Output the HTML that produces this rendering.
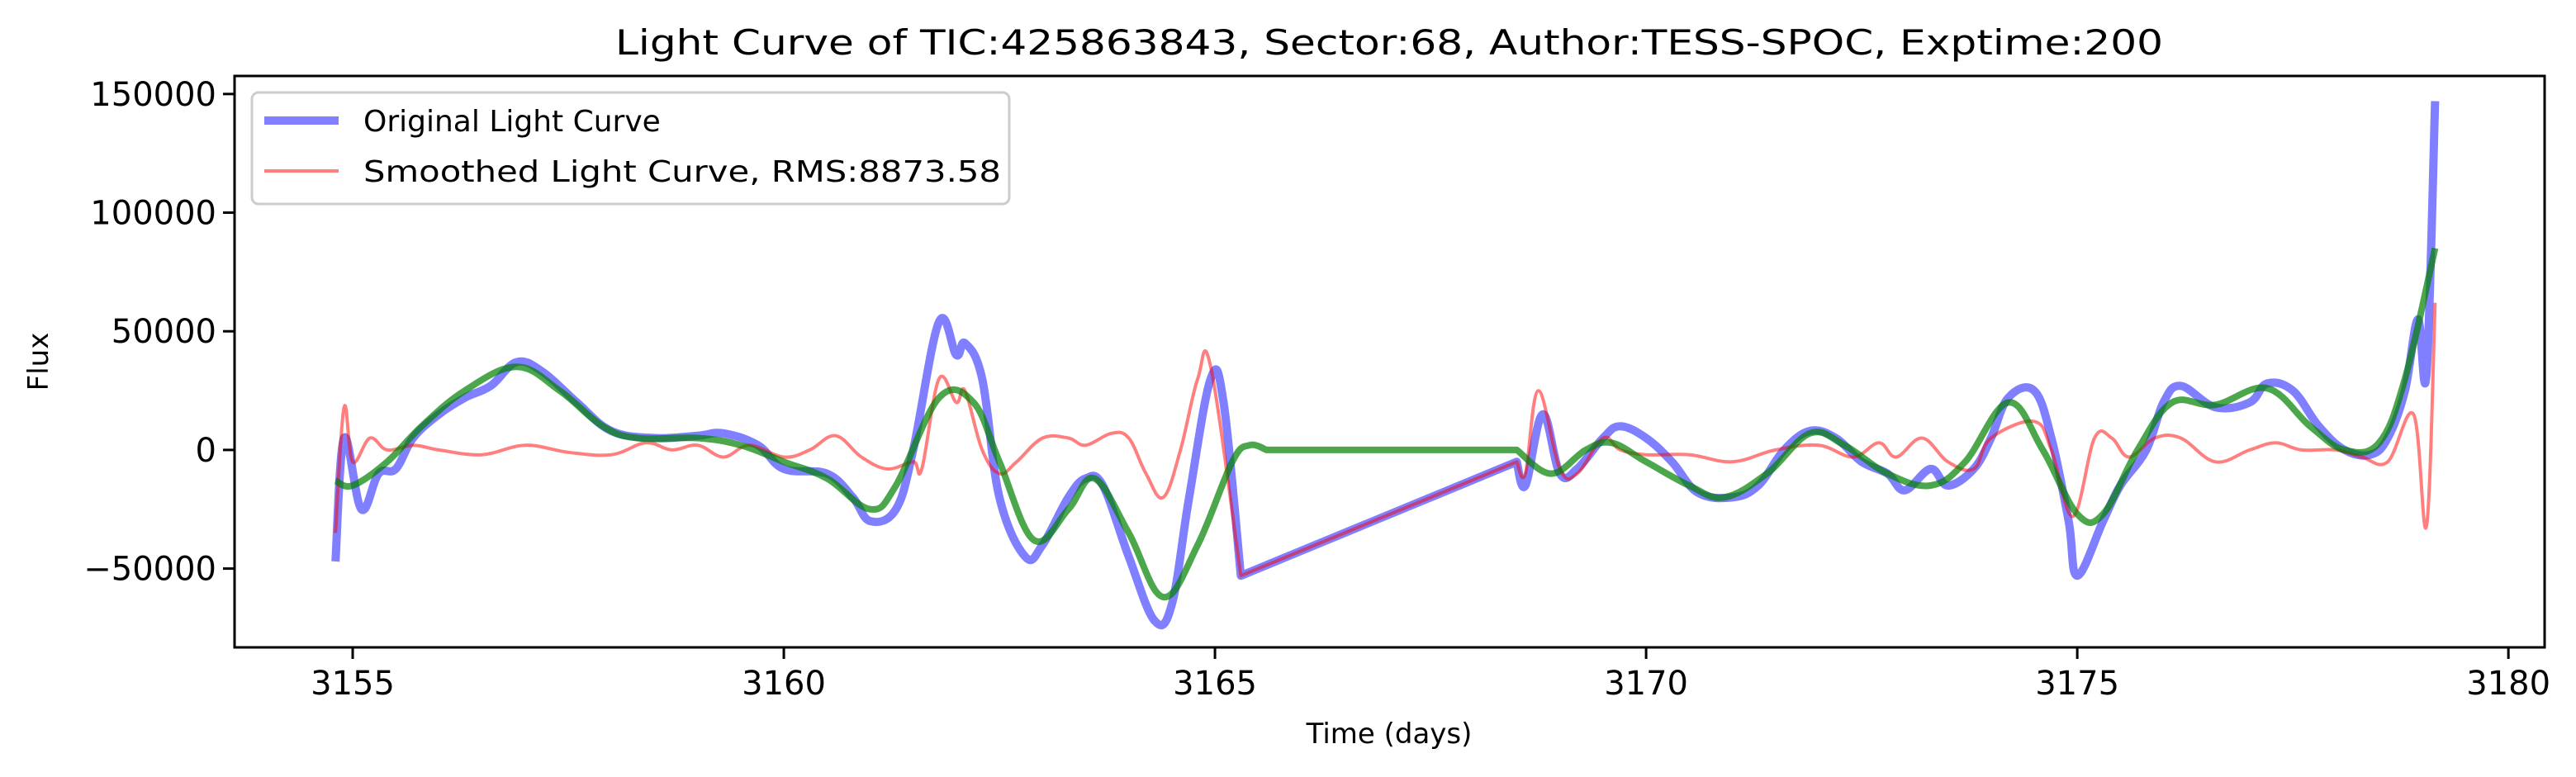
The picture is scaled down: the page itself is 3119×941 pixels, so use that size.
<!DOCTYPE html>
<html><head><meta charset="utf-8"><style>
html,body{margin:0;padding:0;background:#fff;}
svg{display:block;font-family:"DejaVu Sans","Liberation Sans",sans-serif;}
</style></head><body>
<svg id="chart" width="3119" height="941" viewBox="0 0 3119 941">
<rect x="0" y="0" width="3119" height="941" fill="#fff"/>
<text x="1682" y="66" text-anchor="middle" font-size="42" fill="#000" textLength="1874" lengthAdjust="spacingAndGlyphs">Light Curve of TIC:425863843, Sector:68, Author:TESS-SPOC, Exptime:200</text>
<g id="plot"></g>
<g id="axes"></g>
<text x="1682" y="900" text-anchor="middle" font-size="34" fill="#000">Time (days)</text>
<text transform="translate(58,438) rotate(-90)" text-anchor="middle" font-size="34" fill="#000">Flux</text>
<g>
<rect x="305" y="112" width="917" height="135" rx="8" fill="#fff" fill-opacity="0.8" stroke="#ccc" stroke-width="3"/>
<line x1="320" y1="146" x2="410" y2="146" stroke="#0000ff" stroke-opacity="0.5" stroke-width="10"/>
<text x="440" y="159" font-size="36" fill="#000">Original Light Curve</text>
<line x1="320" y1="207" x2="410" y2="207" stroke="#ff0000" stroke-opacity="0.5" stroke-width="4"/>
<text x="440" y="220" font-size="36" fill="#000" textLength="772" lengthAdjust="spacingAndGlyphs">Smoothed Light Curve, RMS:8873.58</text>
</g>
</svg>
<script>
const origT=[3154.8,3154.9,3155.1,3155.3,3155.5,3155.7,3156.0,3156.3,3156.6,3156.9,3157.2,3157.6,3158.0,3158.5,3159.0,3159.3,3159.7,3160.0,3160.5,3160.8,3161.0,3161.3,3161.5,3161.8,3162.0,3162.1,3162.3,3162.5,3162.8,3163.0,3163.3,3163.5,3163.7,3164.0,3164.3,3164.5,3164.7,3164.95,3165.1,3165.3,3168.5,3168.6,3168.8,3169.0,3169.2,3169.5,3169.7,3170.0,3170.3,3170.6,3171.0,3171.3,3171.6,3171.9,3172.2,3172.5,3172.8,3173.0,3173.3,3173.5,3173.8,3174.0,3174.2,3174.5,3174.7,3174.9,3175.0,3175.3,3175.5,3175.8,3176.0,3176.2,3176.6,3177.0,3177.2,3177.5,3177.8,3178.1,3178.4,3178.6,3178.8,3178.95,3179.05,3179.15];
const origF=[-47,5,-25,-10,-8,5,15,22,27,37,33,20,8,5,6,7,2,-8,-10,-20,-30,-25,0,54,40,45,30,-20,-45,-40,-20,-12,-15,-45,-72,-65,-20,30,20,-53,-5,-15,15,-10,-8,5,10,5,-5,-18,-20,-15,0,8,5,-5,-10,-17,-8,-15,-8,5,22,25,5,-30,-53,-30,-15,0,20,27,18,20,28,25,10,0,-2,5,25,55,32,147];
const smT=[3154.8,3154.9,3155.0,3155.2,3155.4,3155.7,3156.0,3156.5,3157.0,3157.5,3158.0,3158.4,3158.7,3159.0,3159.3,3159.6,3160.0,3160.3,3160.6,3160.9,3161.2,3161.5,3161.6,3161.8,3162.0,3162.1,3162.3,3162.5,3162.7,3163.0,3163.3,3163.5,3163.8,3164.0,3164.2,3164.4,3164.6,3164.8,3164.95,3165.3,3168.5,3168.6,3168.75,3169.0,3169.2,3169.5,3169.7,3170.0,3170.5,3171.0,3171.5,3172.0,3172.4,3172.7,3172.9,3173.2,3173.5,3173.8,3174.0,3174.5,3174.7,3174.95,3175.2,3175.4,3175.6,3175.9,3176.2,3176.6,3177.0,3177.3,3177.6,3178.0,3178.3,3178.6,3178.9,3179.05,3179.15];
const smF=[-35,18,-5,5,0,2,0,-2,2,-1,-2,3,0,2,-3,2,-3,0,6,-3,-8,-5,-8,30,20,25,0,-10,-5,5,5,2,7,5,-10,-20,0,30,35,-53,-5,-10,25,-8,-10,5,0,-2,-2,-5,0,2,-3,3,-3,5,-5,-8,5,12,0,-28,5,5,-3,5,5,-5,0,3,0,0,-3,-5,15,-32,62];
const trendT=[3154.8,3155.0,3155.4,3155.8,3156.3,3156.9,3157.4,3157.9,3158.3,3159.0,3159.5,3160.0,3160.5,3161.0,3161.3,3161.8,3162.2,3162.5,3162.9,3163.3,3163.6,3164.0,3164.4,3164.8,3165.2,3165.4,3165.6,3168.5,3168.9,3169.3,3169.6,3170.0,3170.5,3170.9,3171.4,3171.9,3172.3,3172.8,3173.3,3173.7,3174.2,3174.6,3175.0,3175.3,3175.7,3176.1,3176.6,3177.2,3177.7,3178.1,3178.5,3178.8,3179.15];
const trendF=[-13,-15,-5,10,25,35,25,10,5,5,2,-5,-12,-25,-15,22,20,-5,-38,-25,-12,-35,-62,-40,-5,2,0,0,-10,0,3,-5,-15,-20,-10,7,2,-10,-15,-5,20,0,-27,-27,0,20,19,26,10,0,3,30,85];
const xTicks=[3155,3160,3165,3170,3175,3180];
const yTicks=[-50000,0,50000,100000,150000];
const yTickLabels=["\u221250000","0","50000","100000","150000"];

const L=284,R=3081,T=92,B=784;
const xMin=3153.63,xMax=3180.42,yMin=-83200,yMax=157600;
const sx=t=>L+(t-xMin)/(xMax-xMin)*(R-L);
const sy=v=>B-(v-yMin)/(yMax-yMin)*(B-T);
const NS="http://www.w3.org/2000/svg";
const plot=document.getElementById('plot');
const axes=document.getElementById('axes');
function line(ts,fs,color,w,op,name){
  const p=document.createElementNS(NS,'path');
  const pts=ts.map((t,i)=>[sx(t),sy(fs[i]*1000)]);
  const gap=i=>i>=0&&i<ts.length-1&&(ts[i+1]-ts[i])>1;
  let d='M'+pts[0][0].toFixed(1)+','+pts[0][1].toFixed(1);
  for(let i=0;i<pts.length-1;i++){
    const p1=pts[i],p2=pts[i+1];
    if(gap(i)){d+='L'+p2[0].toFixed(1)+','+p2[1].toFixed(1);continue;}
    const p0=(i>0&&!gap(i-1))?pts[i-1]:p1;
    const p3=(i+2<pts.length&&!gap(i+1))?pts[i+2]:p2;
    const k=0.18;
    const c1=[p1[0]+(p2[0]-p0[0])*k,p1[1]+(p2[1]-p0[1])*k];
    const c2=[p2[0]-(p3[0]-p1[0])*k,p2[1]-(p3[1]-p1[1])*k];
    d+='C'+c1[0].toFixed(1)+','+c1[1].toFixed(1)+' '+c2[0].toFixed(1)+','+c2[1].toFixed(1)+' '+p2[0].toFixed(1)+','+p2[1].toFixed(1);
  }
  p.setAttribute('d',d);p.setAttribute('fill','none');p.setAttribute('stroke',color);
  p.setAttribute('stroke-width',w);p.setAttribute('stroke-opacity',op);p.setAttribute('stroke-linejoin','round');
  
  
  plot.appendChild(p);
}
line(origT,origF,'#0000ff',10,0.5,'original-light-curve');
line(smT,smF,'#ff0000',4,0.5,'smoothed-light-curve');
line(trendT,trendF,'#008000',8,0.7,'trend-curve');
const frame=document.createElementNS(NS,'rect');
frame.setAttribute('x',L);frame.setAttribute('y',T);frame.setAttribute('width',R-L);frame.setAttribute('height',B-T);
frame.setAttribute('fill','none');frame.setAttribute('stroke','#000');frame.setAttribute('stroke-width',3);


axes.appendChild(frame);
xTicks.forEach(v=>{
  const x=sx(v);
  const tk=document.createElementNS(NS,'line');
  tk.setAttribute('x1',x);tk.setAttribute('x2',x);tk.setAttribute('y1',B);tk.setAttribute('y2',B+14);
  tk.setAttribute('stroke','#000');tk.setAttribute('stroke-width',3);
  
  
  axes.appendChild(tk);
  const tx=document.createElementNS(NS,'text');
  tx.setAttribute('x',x);tx.setAttribute('y',B+57);tx.setAttribute('text-anchor','middle');tx.setAttribute('font-size','40');
  tx.textContent=v;
  
  
  axes.appendChild(tx);
});
yTicks.forEach((v,i)=>{
  const y=sy(v);
  const tk=document.createElementNS(NS,'line');
  tk.setAttribute('x1',L-14);tk.setAttribute('x2',L);tk.setAttribute('y1',y);tk.setAttribute('y2',y);
  tk.setAttribute('stroke','#000');tk.setAttribute('stroke-width',3);
  
  
  axes.appendChild(tk);
  const tx=document.createElementNS(NS,'text');
  tx.setAttribute('x',L-22);tx.setAttribute('y',y+14);tx.setAttribute('text-anchor','end');tx.setAttribute('font-size','40');
  tx.textContent=yTickLabels[i];
  
  
  axes.appendChild(tx);
});
</script>
</body></html>
